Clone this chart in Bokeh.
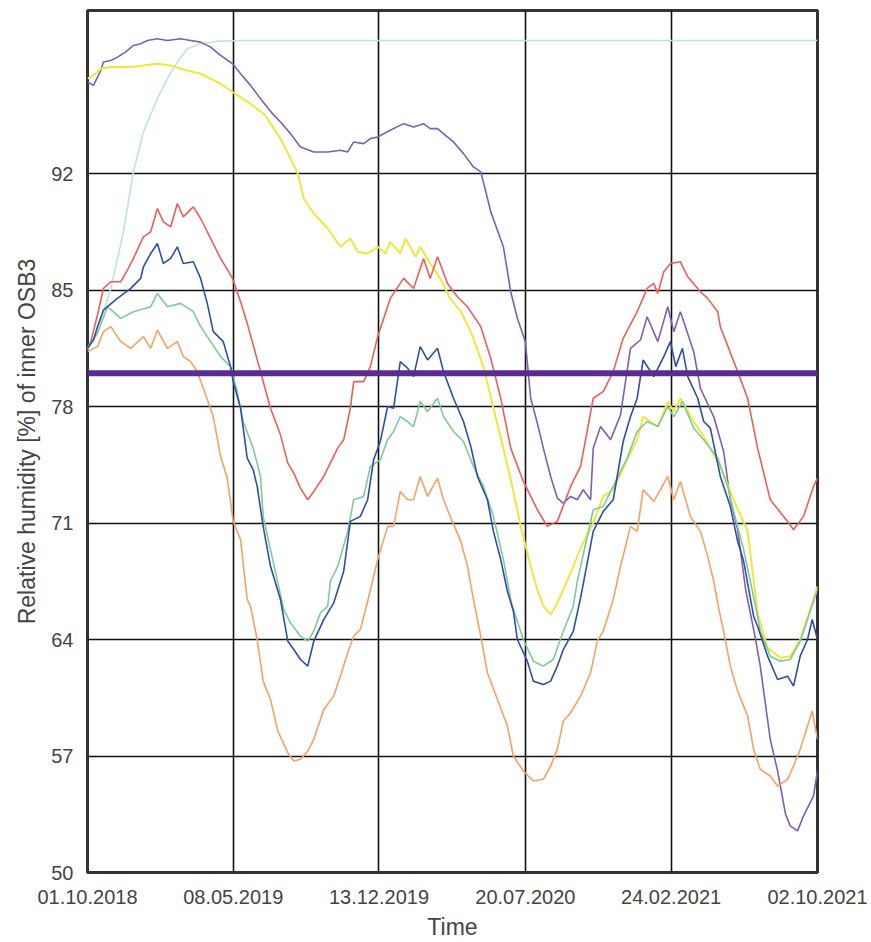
import pandas as pd
from bokeh.plotting import figure
from bokeh.models import Range1d, FixedTicker, DatetimeTickFormatter, Span
from bokeh.embed import file_html
from bokeh.resources import INLINE

START = "2018-10-01"
END = "2021-10-02"
tick_labels = ["01.10.2018", "08.05.2019", "13.12.2019", "20.07.2020", "24.02.2021", "02.10.2021"]
y_ticks = [50, 57, 64, 71, 78, 85, 92]
threshold = 80

# day offsets from START and relative humidity [%]
cyan_days = [0, 15, 24, 35, 54, 69, 84, 105, 120, 135, 150, 170, 195, 230, 1097]
cyan_rh = [81.4, 82.6, 83.7, 85.1, 88.5, 92.1, 94.5, 96.5, 97.7, 98.7, 99.5, 99.8, 99.95, 100.0, 100.0]

purple_days = [0, 9, 20, 24, 35, 45, 57, 69, 80, 90, 105, 120, 140, 155, 170, 185, 200, 218, 230, 245,
               260, 278, 290, 305, 320, 340, 361, 380, 391, 400, 415, 425, 436, 455, 475, 490, 505, 515,
               526, 538, 550, 565, 580, 591, 598, 606, 616, 625, 636, 646, 658, 666, 676, 685, 696, 706,
               715, 726, 736, 745, 756, 760, 771, 786, 801, 816, 831, 841, 857, 872, 881, 891, 911, 921,
               941, 956, 966, 977, 989, 1004, 1011, 1026, 1037, 1049, 1056, 1067, 1076, 1091, 1097]
purple_rh = [97.5, 97.3, 98.2, 98.7, 98.8, 99.0, 99.3, 99.7, 99.8, 100.0, 100.1, 100.0, 100.1, 100.0, 99.9,
             99.6, 99.1, 98.6, 98.0, 97.3, 96.5, 95.6, 95.1, 94.4, 93.6, 93.3, 93.3, 93.4, 93.3, 93.9,
             93.8, 94.1, 94.2, 94.6, 95.0, 94.8, 95.0, 94.7, 94.7, 94.3, 93.9, 93.2, 92.4, 92.1, 91.0,
             89.7, 88.6, 87.6, 84.9, 83.3, 81.9, 78.5, 77.0, 75.5, 73.8, 72.5, 72.2, 72.6, 72.4, 73.0,
             72.4, 75.5, 76.8, 76.0, 77.5, 81.5, 82.0, 83.4, 81.9, 84.0, 82.5, 83.7, 81.3, 79.1, 77.4,
             75.3, 72.4, 70.6, 67.0, 64.0, 62.4, 58.0, 56.1, 53.5, 52.8, 52.5, 53.4, 54.6, 56.1]

yellow_days = [0, 9, 20, 35, 65, 105, 125, 140, 170, 200, 218, 245, 267, 290, 305, 316, 325, 340, 361,
               380, 395, 406, 421, 436, 448, 455, 470, 478, 493, 500, 515, 530, 545, 561, 576, 595, 610,
               625, 640, 651, 666, 676, 685, 696, 706, 715, 726, 741, 760, 775, 790, 811, 826, 835, 857,
               872, 881, 891, 911, 926, 951, 971, 992, 1007, 1022, 1041, 1056, 1071, 1082, 1091, 1097]
yellow_rh = [97.7, 97.9, 98.3, 98.4, 98.4, 98.6, 98.5, 98.3, 98.0, 97.4, 96.9, 96.2, 95.5, 94.1, 92.9,
             92.0, 90.5, 89.6, 88.7, 87.6, 88.1, 87.3, 87.2, 87.6, 87.2, 87.9, 87.2, 88.1, 87.0, 87.6,
             86.6, 85.7, 84.5, 83.7, 82.5, 80.4, 77.9, 75.5, 72.9, 70.8, 68.4, 67.0, 66.0, 65.5, 66.2,
             67.0, 68.0, 69.5, 71.0, 72.6, 73.0, 74.8, 76.0, 77.4, 76.8, 78.3, 77.7, 78.5, 77.1, 76.2,
             74.4, 72.4, 70.5, 65.6, 63.5, 62.9, 63.0, 64.0, 65.3, 66.4, 67.2]

red_days = [0, 5, 15, 24, 35, 50, 60, 69, 84, 95, 105, 114, 125, 135, 144, 159, 170, 185, 200, 218, 230,
            240, 260, 275, 290, 301, 310, 320, 331, 340, 355, 376, 385, 395, 400, 415, 425, 436, 455, 475,
            490, 505, 515, 526, 541, 556, 571, 591, 606, 621, 636, 655, 676, 691, 706, 726, 741, 760, 775,
            790, 805, 826, 841, 851, 857, 866, 876, 891, 902, 921, 932, 947, 951, 977, 992, 1007, 1026,
            1052, 1061, 1076, 1091, 1097]
red_rh = [81.5, 81.9, 83.5, 85.1, 85.5, 85.5, 86.2, 86.9, 88.2, 88.5, 89.9, 89.1, 88.8, 90.2, 89.4, 90.0,
          89.3, 88.1, 86.9, 85.7, 84.3, 83.0, 80.1, 77.9, 76.3, 74.6, 74.0, 73.1, 72.4, 72.9, 73.8, 75.5,
          76.0, 77.9, 79.5, 79.5, 80.4, 82.2, 84.5, 85.7, 85.1, 86.9, 85.7, 87.0, 85.4, 84.6, 84.0, 82.8,
          80.9, 78.5, 75.5, 73.5, 71.8, 70.8, 71.1, 73.2, 74.4, 78.5, 78.9, 80.1, 82.1, 83.7, 85.1, 85.4,
          84.8, 86.1, 86.6, 86.7, 85.8, 84.9, 84.5, 83.7, 82.8, 80.1, 78.5, 75.5, 72.4, 71.1, 70.6, 71.4,
          73.2, 73.7]

orange_days = [0, 15, 24, 35, 50, 65, 84, 95, 105, 120, 135, 144, 155, 165, 174, 189, 200, 210, 219, 230,
               240, 245, 255, 264, 275, 286, 301, 310, 320, 331, 340, 355, 370, 380, 391, 400, 410, 421,
               436, 451, 460, 470, 481, 490, 500, 511, 526, 535, 545, 561, 571, 580, 591, 601, 616, 631,
               640, 655, 670, 685, 696, 706, 715, 726, 741, 756, 766, 775, 790, 801, 816, 826, 835, 851,
               861, 872, 881, 891, 906, 921, 932, 941, 951, 956, 966, 977, 992, 1001, 1011, 1026, 1037,
               1052, 1061, 1071, 1082, 1089, 1097]
orange_rh = [81.3, 81.6, 82.5, 82.8, 81.9, 81.5, 82.2, 81.5, 82.6, 81.5, 81.9, 81.0, 80.7, 80.1, 79.1,
             77.4, 75.0, 73.7, 71.1, 70.0, 66.4, 66.0, 64.0, 61.5, 60.4, 58.5, 57.2, 56.7, 56.8, 57.3,
             58.0, 59.8, 60.6, 61.8, 63.2, 64.2, 64.6, 66.3, 68.8, 70.8, 70.8, 72.9, 72.4, 72.4, 73.8,
             72.6, 73.7, 72.4, 71.4, 69.9, 68.4, 66.4, 64.2, 62.0, 60.4, 58.8, 57.0, 56.1, 55.5, 55.6,
             56.4, 57.4, 59.1, 59.6, 60.6, 62.0, 63.9, 64.5, 66.4, 68.4, 70.8, 70.5, 73.0, 72.3, 73.0,
             73.8, 72.4, 73.5, 71.4, 70.5, 69.0, 67.5, 65.4, 64.5, 62.4, 60.9, 59.4, 57.4, 56.2, 55.8,
             55.2, 55.6, 56.4, 57.4, 58.8, 59.7, 58.0]

green_days = [0, 15, 30, 50, 69, 95, 105, 120, 140, 159, 170, 185, 200, 215, 225, 234, 249, 260, 264, 275,
              295, 305, 320, 331, 340, 350, 361, 365, 376, 391, 400, 415, 425, 440, 451, 460, 470, 481,
              490, 500, 511, 526, 535, 550, 565, 580, 595, 610, 625, 636, 640, 655, 670, 685, 700, 715,
              730, 736, 760, 775, 790, 811, 826, 841, 857, 872, 881, 894, 911, 926, 947, 962, 971, 986,
              996, 1007, 1011, 1026, 1041, 1056, 1071, 1082, 1091, 1097]
green_rh = [81.5, 82.4, 84.0, 83.3, 83.7, 84.0, 84.8, 84.0, 84.2, 83.7, 82.8, 81.9, 81.0, 80.4, 78.9,
            77.1, 75.5, 73.8, 71.4, 69.4, 65.8, 65.0, 64.2, 63.9, 64.5, 65.6, 66.0, 67.5, 68.4, 70.5,
            72.4, 72.6, 74.4, 74.8, 76.0, 76.5, 77.4, 77.1, 76.8, 78.3, 77.7, 78.5, 77.4, 76.5, 75.9,
            74.4, 73.2, 71.4, 68.8, 66.4, 65.8, 64.0, 62.7, 62.4, 62.8, 64.5, 66.0, 67.5, 71.8, 72.0,
            73.2, 74.9, 76.5, 77.1, 76.8, 78.0, 77.4, 78.3, 76.7, 76.0, 74.9, 73.2, 71.7, 69.4, 67.5,
            65.4, 64.5, 63.0, 62.7, 62.8, 63.9, 65.2, 66.3, 67.0]

blue_days = [0, 9, 15, 24, 30, 45, 65, 80, 84, 95, 105, 114, 125, 135, 144, 159, 170, 180, 189, 204, 215,
             219, 230, 240, 249, 255, 264, 275, 290, 301, 310, 320, 331, 340, 355, 370, 385, 395, 410, 421,
             430, 440, 451, 460, 470, 481, 490, 500, 511, 526, 535, 550, 565, 576, 586, 601, 610, 621, 631,
             640, 646, 661, 670, 685, 696, 706, 715, 730, 741, 760, 775, 790, 805, 816, 826, 835, 851, 866,
             876, 884, 894, 902, 917, 926, 936, 951, 966, 977, 986, 1001, 1007, 1022, 1037, 1052, 1061,
             1071, 1082, 1089, 1097]
blue_rh = [81.5, 82.0, 82.8, 83.8, 84.0, 84.5, 85.1, 85.7, 86.4, 87.2, 87.8, 86.6, 86.9, 87.6, 86.6, 86.7,
           85.7, 84.2, 82.5, 81.9, 80.4, 79.5, 77.9, 74.9, 74.2, 73.2, 70.8, 68.4, 66.4, 63.9, 63.4, 62.8,
           62.4, 63.9, 65.2, 66.2, 68.1, 71.1, 71.4, 72.4, 74.8, 75.9, 78.0, 77.9, 80.7, 80.3, 79.8, 81.6,
           80.8, 81.5, 80.1, 78.5, 77.1, 75.6, 73.8, 72.4, 70.5, 68.8, 66.9, 65.7, 64.0, 62.7, 61.5, 61.3,
           61.5, 62.4, 63.4, 64.5, 66.5, 70.5, 71.7, 72.4, 75.9, 77.4, 78.5, 80.8, 79.8, 81.0, 81.9, 80.4,
           81.5, 79.8, 78.5, 77.1, 76.7, 73.8, 72.0, 69.9, 68.7, 65.4, 64.8, 63.0, 61.6, 61.8, 61.2, 63.0,
           64.0, 65.2, 64.0]

start = pd.Timestamp(START)


def to_dates(days):
    return [start + pd.Timedelta(days=d) for d in days]


tick_ts = [pd.to_datetime(t, format="%d.%m.%Y") for t in tick_labels]
tick_ms = [t.value / 1e6 for t in tick_ts]

p = figure(width=870, height=942, output_backend="svg", toolbar_location=None,
           x_axis_type="datetime",
           x_range=Range1d(start.to_pydatetime(), pd.Timestamp(END).to_pydatetime()),
           y_range=Range1d(50, 101.8),
           min_border_left=87, min_border_right=53, min_border_top=10, min_border_bottom=70)

p.background_fill_color = "white"
p.border_fill_color = "white"
p.outline_line_color = "#333333"
p.outline_line_width = 3

p.xaxis.ticker = FixedTicker(ticks=tick_ms)
fmt = "%d.%m.%Y"
p.xaxis.formatter = DatetimeTickFormatter(milliseconds=fmt, seconds=fmt, minsec=fmt, minutes=fmt,
                                          hourmin=fmt, hours=fmt, days=fmt, months=fmt, years=fmt)
p.yaxis.ticker = FixedTicker(ticks=y_ticks)

for ax in (p.xaxis, p.yaxis):
    ax.axis_line_color = None
    ax.major_tick_line_color = None
    ax.minor_tick_line_color = None
    ax.major_tick_out = 0
    ax.major_tick_in = 0
    ax.minor_tick_out = 0
    ax.major_label_text_font = "Liberation Sans"
    ax.major_label_text_font_size = "20px"
    ax.major_label_text_color = "#444444"
    ax.axis_label_text_font = "Liberation Sans"
    ax.axis_label_text_font_size = "23px"
    ax.axis_label_text_font_style = "normal"
    ax.axis_label_text_color = "#444444"

p.xaxis.axis_label = "Time"
p.yaxis.axis_label = "Relative humidity [%] of inner OSB3"
p.xaxis.major_label_standoff = 17
p.yaxis.major_label_standoff = 14
p.xaxis.axis_label_standoff = 7
p.yaxis.axis_label_standoff = 8

p.grid.grid_line_color = "#111111"
p.grid.grid_line_width = 1.6

lw = 1.6
p.line(to_dates(cyan_days), cyan_rh, line_color="#c2e2de", line_width=lw)
p.line(to_dates(purple_days), purple_rh, line_color="#7e5fb3", line_width=lw)
p.line(to_dates(yellow_days), yellow_rh, line_color="#eee83c", line_width=lw + 0.4)
p.line(to_dates(red_days), red_rh, line_color="#e8605a", line_width=lw)
p.line(to_dates(orange_days), orange_rh, line_color="#f4a266", line_width=lw)
p.line(to_dates(green_days), green_rh, line_color="#80c99a", line_width=lw)
p.line(to_dates(blue_days), blue_rh, line_color="#2f4fa6", line_width=lw)

p.add_layout(Span(location=threshold, dimension="width", line_color="#5a2c8e", line_width=6))

open("out.html", "w").write(file_html(p, INLINE))
